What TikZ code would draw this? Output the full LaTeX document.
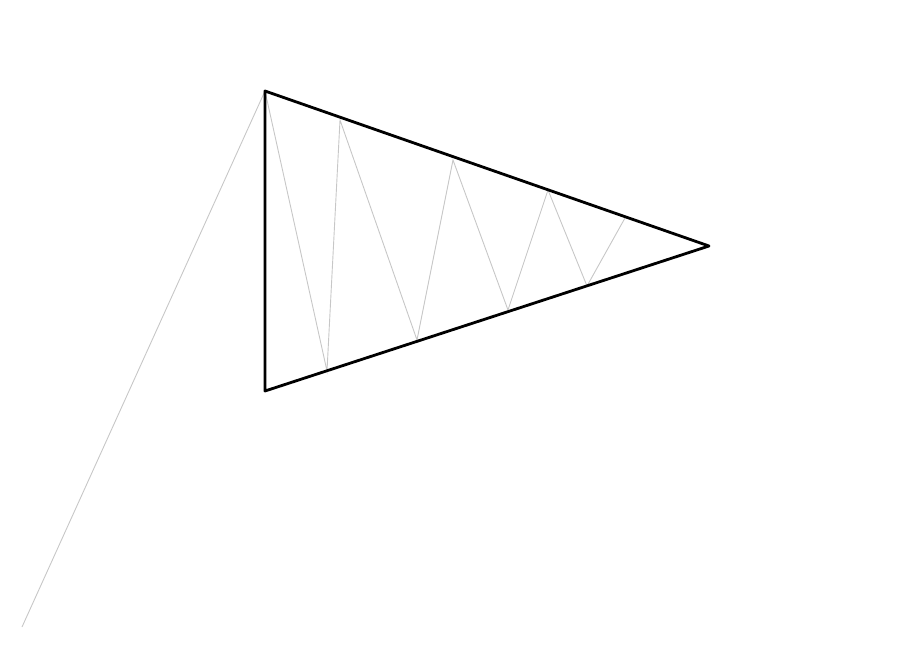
\documentclass[tikz,border=0pt]{standalone}
\begin{document}
\begin{tikzpicture}[x=1pt,y=-1pt,
  edge/.style={line width=2.8pt, black, line join=round},
  thin/.style={line width=0.9pt, color=black!22}]
\useasboundingbox (0,0) rectangle (900,653);
\coordinate (A) at (265,91);
\coordinate (B) at (265,391);
\coordinate (C) at (709,246);
\coordinate (P1) at (327,371);
\coordinate (P2) at (340,120);
\coordinate (P3) at (417,340);
\coordinate (P4) at (453,160);
\coordinate (P5) at (508,310);
\coordinate (P6) at (548,190);
\coordinate (P7) at (587,286);
\coordinate (P8) at (625,218);
\coordinate (T) at (22,627);
\draw[thin] (A) -- (T);
\draw[thin] (A) -- (P1) -- (P2) -- (P3) -- (P4) -- (P5) -- (P6) -- (P7) -- (P8);
\draw[edge] (A) -- (B) -- (C) -- cycle;
\end{tikzpicture}
\end{document}
